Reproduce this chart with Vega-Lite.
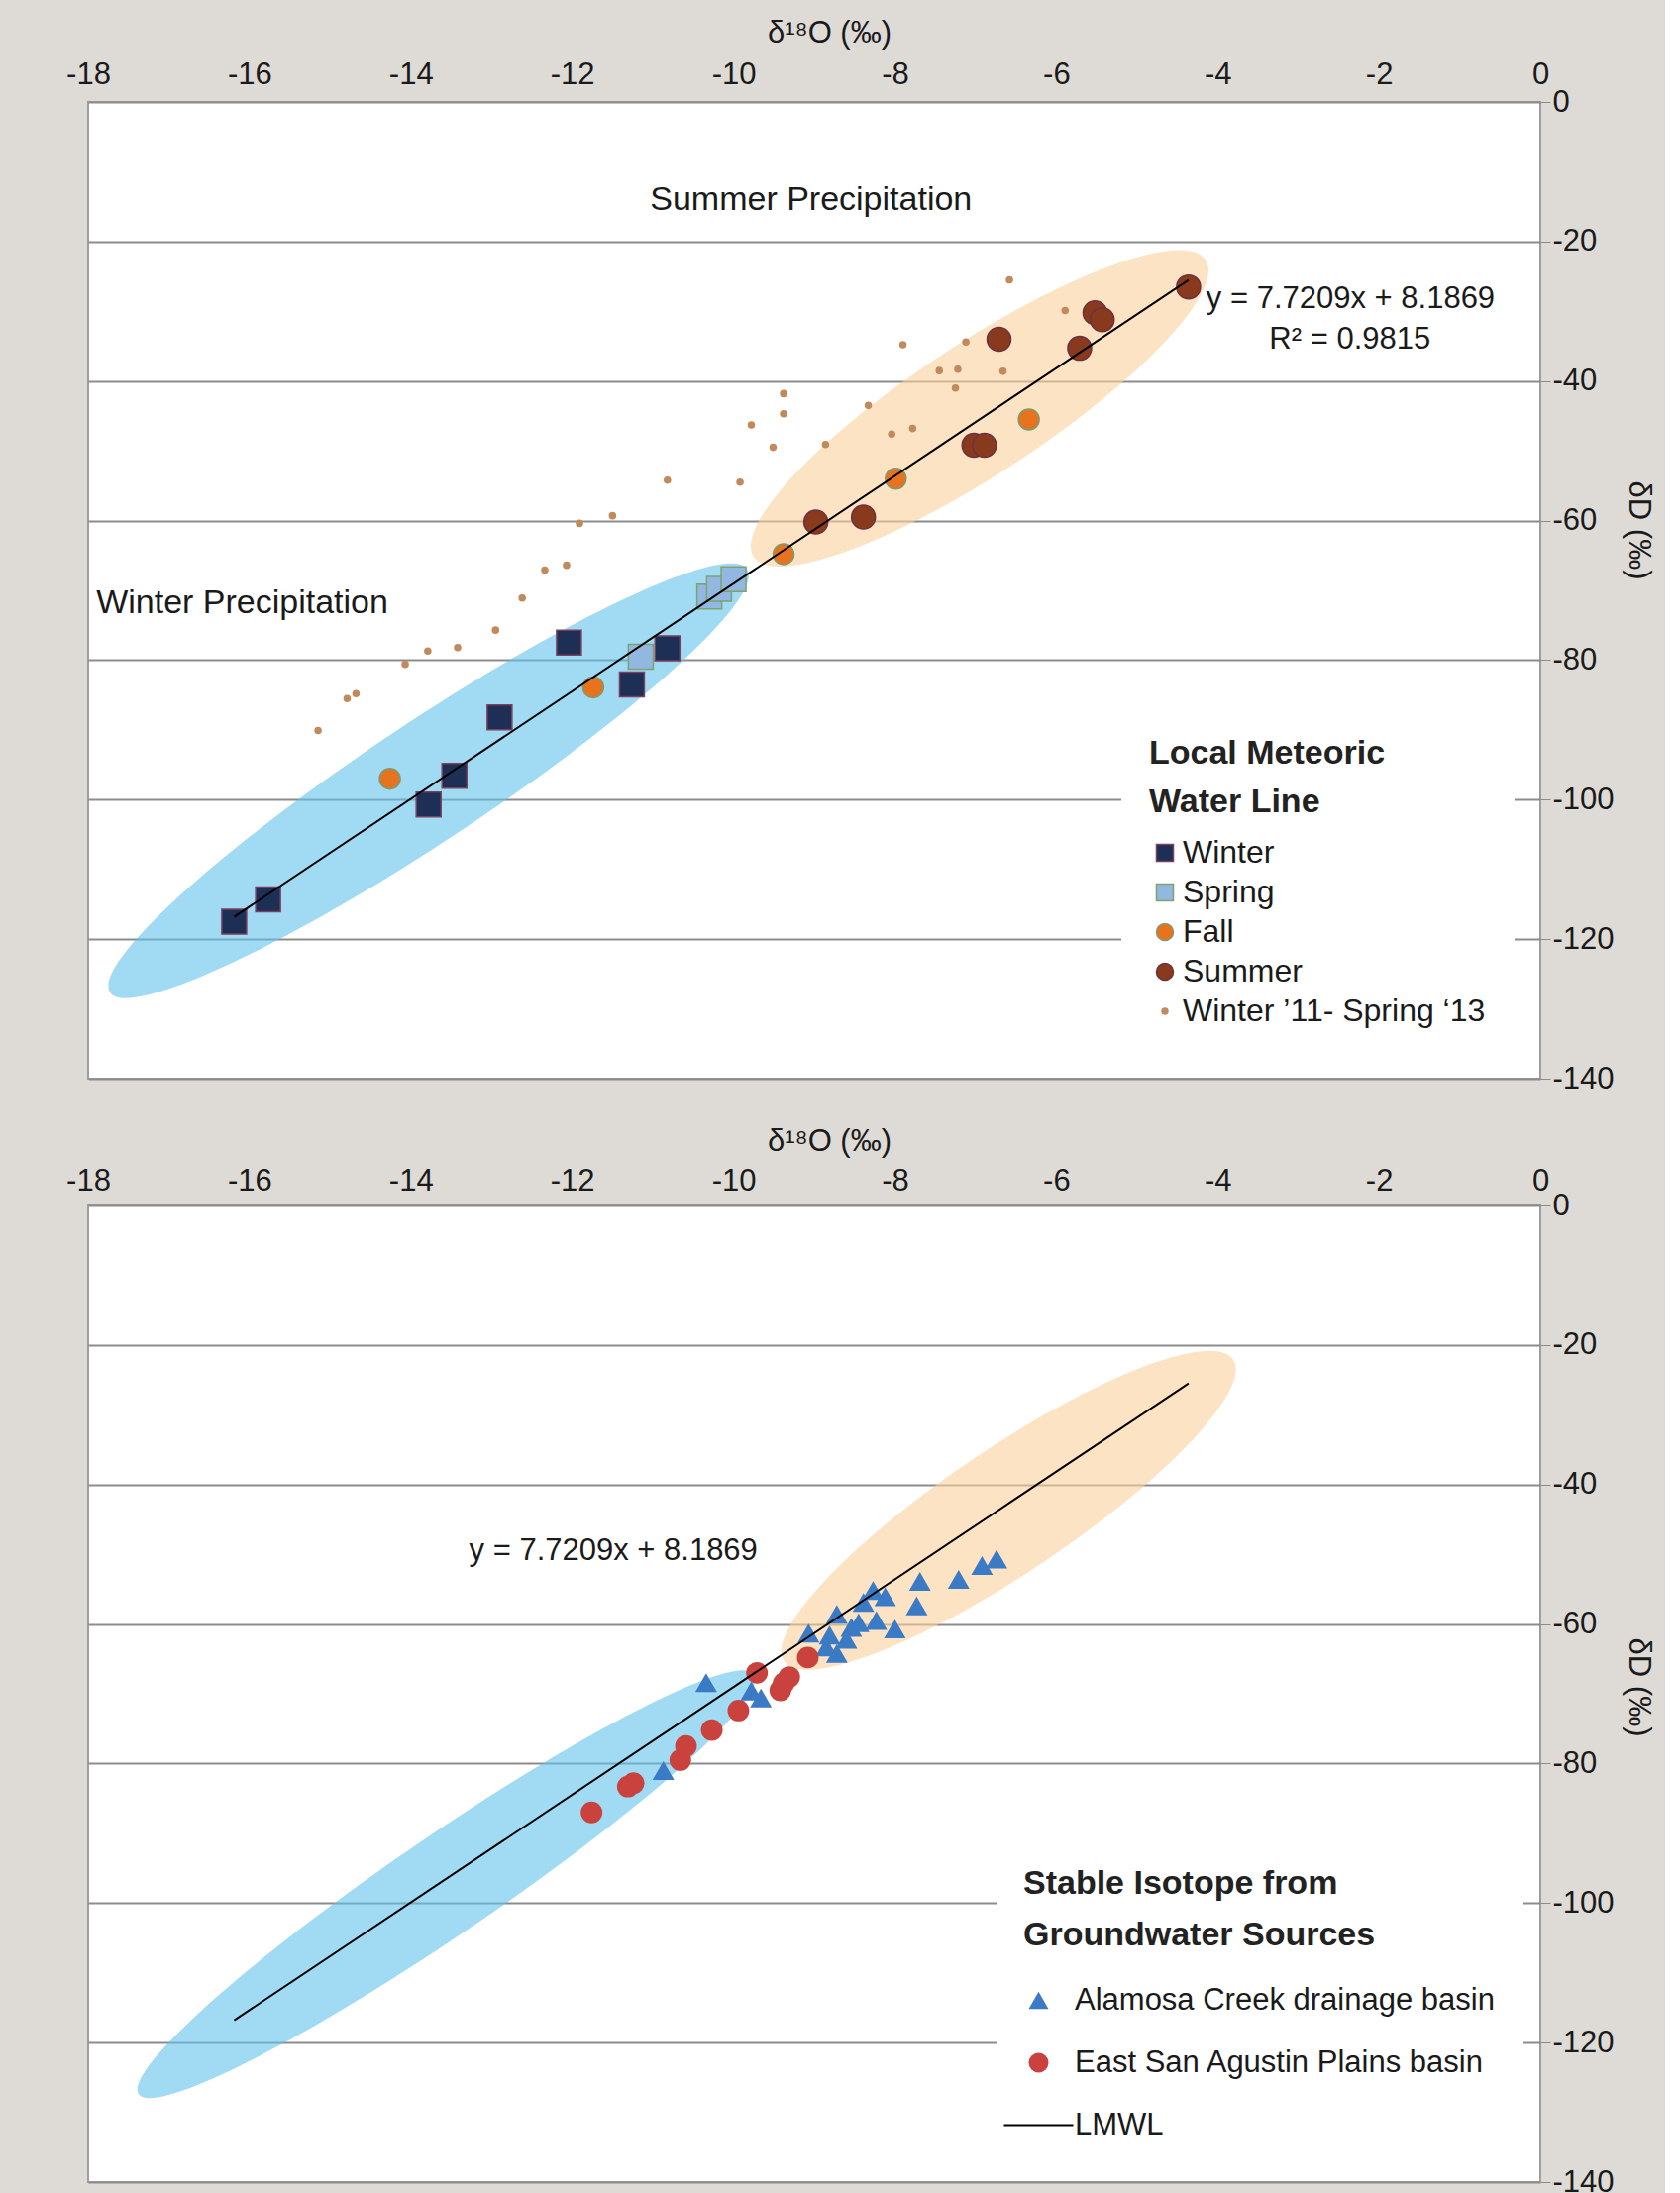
{
  "$schema": "https://vega.github.io/schema/vega-lite/v6.json",
  "background": "#dedbd6",
  "padding": {"left": 65, "top": 16, "right": 10, "bottom": 10},
  "bounds": "flush",
  "spacing": 128,
  "config": {
    "font": "Liberation Sans",
    "view": {"fill": "white", "stroke": "#9e9e9e", "strokeWidth": 2},
    "axis": {"labelFont": "Liberation Sans", "titleFont": "Liberation Sans", "labelColor": "#1a1a1a", "titleColor": "#1a1a1a", "titleFontWeight": "normal"},
    "legend": {"labelFont": "Liberation Sans", "titleFont": "Liberation Sans", "labelLimit": 800, "titleLimit": 800}
  },
  "datasets": {
    "precip": [
      {"series": "Winter ’11- Spring ‘13", "d18O": -6.58, "dD": -25.5},
      {"series": "Winter ’11- Spring ‘13", "d18O": -5.89, "dD": -29.9},
      {"series": "Winter ’11- Spring ‘13", "d18O": -7.90, "dD": -34.8},
      {"series": "Winter ’11- Spring ‘13", "d18O": -7.12, "dD": -34.4},
      {"series": "Winter ’11- Spring ‘13", "d18O": -7.45, "dD": -38.5},
      {"series": "Winter ’11- Spring ‘13", "d18O": -7.22, "dD": -38.3},
      {"series": "Winter ’11- Spring ‘13", "d18O": -6.66, "dD": -38.6},
      {"series": "Winter ’11- Spring ‘13", "d18O": -7.25, "dD": -41.0},
      {"series": "Winter ’11- Spring ‘13", "d18O": -9.38, "dD": -41.8},
      {"series": "Winter ’11- Spring ‘13", "d18O": -8.33, "dD": -43.5},
      {"series": "Winter ’11- Spring ‘13", "d18O": -9.38, "dD": -44.7},
      {"series": "Winter ’11- Spring ‘13", "d18O": -9.78, "dD": -46.3},
      {"series": "Winter ’11- Spring ‘13", "d18O": -7.78, "dD": -46.8},
      {"series": "Winter ’11- Spring ‘13", "d18O": -8.04, "dD": -47.6},
      {"series": "Winter ’11- Spring ‘13", "d18O": -8.86, "dD": -49.1},
      {"series": "Winter ’11- Spring ‘13", "d18O": -9.51, "dD": -49.5},
      {"series": "Winter ’11- Spring ‘13", "d18O": -9.92, "dD": -54.5},
      {"series": "Winter ’11- Spring ‘13", "d18O": -10.82, "dD": -54.2},
      {"series": "Winter ’11- Spring ‘13", "d18O": -11.50, "dD": -59.3},
      {"series": "Winter ’11- Spring ‘13", "d18O": -11.91, "dD": -60.4},
      {"series": "Winter ’11- Spring ‘13", "d18O": -12.07, "dD": -66.4},
      {"series": "Winter ’11- Spring ‘13", "d18O": -12.34, "dD": -67.1},
      {"series": "Winter ’11- Spring ‘13", "d18O": -12.62, "dD": -71.1},
      {"series": "Winter ’11- Spring ‘13", "d18O": -12.95, "dD": -75.7},
      {"series": "Winter ’11- Spring ‘13", "d18O": -13.42, "dD": -78.2},
      {"series": "Winter ’11- Spring ‘13", "d18O": -13.79, "dD": -78.7},
      {"series": "Winter ’11- Spring ‘13", "d18O": -14.07, "dD": -80.6},
      {"series": "Winter ’11- Spring ‘13", "d18O": -14.68, "dD": -84.8},
      {"series": "Winter ’11- Spring ‘13", "d18O": -14.79, "dD": -85.5},
      {"series": "Winter ’11- Spring ‘13", "d18O": -15.15, "dD": -90.1},
      {"series": "Summer", "d18O": -8.98, "dD": -60.2},
      {"series": "Summer", "d18O": -8.39, "dD": -59.5},
      {"series": "Summer", "d18O": -7.02, "dD": -49.2},
      {"series": "Summer", "d18O": -6.89, "dD": -49.2},
      {"series": "Summer", "d18O": -6.71, "dD": -34.0},
      {"series": "Summer", "d18O": -5.71, "dD": -35.3},
      {"series": "Summer", "d18O": -5.52, "dD": -30.2},
      {"series": "Summer", "d18O": -5.43, "dD": -31.2},
      {"series": "Summer", "d18O": -4.36, "dD": -26.5},
      {"series": "Fall", "d18O": -14.26, "dD": -97.0},
      {"series": "Fall", "d18O": -11.74, "dD": -83.9},
      {"series": "Fall", "d18O": -9.38, "dD": -64.8},
      {"series": "Fall", "d18O": -7.99, "dD": -54.0},
      {"series": "Fall", "d18O": -6.34, "dD": -45.5},
      {"series": "Spring", "d18O": -11.15, "dD": -79.5},
      {"series": "Spring", "d18O": -10.30, "dD": -70.9},
      {"series": "Spring", "d18O": -10.18, "dD": -69.8},
      {"series": "Spring", "d18O": -10.00, "dD": -68.4},
      {"series": "Winter", "d18O": -16.19, "dD": -117.5},
      {"series": "Winter", "d18O": -15.77, "dD": -114.3},
      {"series": "Winter", "d18O": -13.78, "dD": -100.7},
      {"series": "Winter", "d18O": -13.46, "dD": -96.6},
      {"series": "Winter", "d18O": -12.90, "dD": -88.2},
      {"series": "Winter", "d18O": -12.04, "dD": -77.5},
      {"series": "Winter", "d18O": -11.26, "dD": -83.5},
      {"series": "Winter", "d18O": -10.82, "dD": -78.3}
    ],
    "gw": [
      {"series": "Alamosa Creek drainage basin", "d18O": -6.74, "dD": -50.7},
      {"series": "Alamosa Creek drainage basin", "d18O": -6.92, "dD": -51.6},
      {"series": "Alamosa Creek drainage basin", "d18O": -7.21, "dD": -53.6},
      {"series": "Alamosa Creek drainage basin", "d18O": -7.69, "dD": -53.9},
      {"series": "Alamosa Creek drainage basin", "d18O": -7.73, "dD": -57.4},
      {"series": "Alamosa Creek drainage basin", "d18O": -8.00, "dD": -60.7},
      {"series": "Alamosa Creek drainage basin", "d18O": -8.12, "dD": -56.1},
      {"series": "Alamosa Creek drainage basin", "d18O": -8.27, "dD": -55.2},
      {"series": "Alamosa Creek drainage basin", "d18O": -8.39, "dD": -56.9},
      {"series": "Alamosa Creek drainage basin", "d18O": -8.23, "dD": -59.5},
      {"series": "Alamosa Creek drainage basin", "d18O": -8.45, "dD": -59.8},
      {"series": "Alamosa Creek drainage basin", "d18O": -8.54, "dD": -60.5},
      {"series": "Alamosa Creek drainage basin", "d18O": -8.72, "dD": -58.6},
      {"series": "Alamosa Creek drainage basin", "d18O": -8.72, "dD": -64.2},
      {"series": "Alamosa Creek drainage basin", "d18O": -8.85, "dD": -63.3},
      {"series": "Alamosa Creek drainage basin", "d18O": -9.07, "dD": -61.3},
      {"series": "Alamosa Creek drainage basin", "d18O": -8.81, "dD": -61.6},
      {"series": "Alamosa Creek drainage basin", "d18O": -8.60, "dD": -62.2},
      {"series": "Alamosa Creek drainage basin", "d18O": -10.34, "dD": -68.4},
      {"series": "Alamosa Creek drainage basin", "d18O": -9.66, "dD": -70.6},
      {"series": "Alamosa Creek drainage basin", "d18O": -9.78, "dD": -69.6},
      {"series": "Alamosa Creek drainage basin", "d18O": -10.87, "dD": -81.0},
      {"series": "East San Agustin Plains basin", "d18O": -11.76, "dD": -87.0},
      {"series": "East San Agustin Plains basin", "d18O": -11.31, "dD": -83.3},
      {"series": "East San Agustin Plains basin", "d18O": -11.24, "dD": -82.8},
      {"series": "East San Agustin Plains basin", "d18O": -10.66, "dD": -79.5},
      {"series": "East San Agustin Plains basin", "d18O": -10.59, "dD": -77.5},
      {"series": "East San Agustin Plains basin", "d18O": -10.27, "dD": -75.2},
      {"series": "East San Agustin Plains basin", "d18O": -9.94, "dD": -72.4},
      {"series": "East San Agustin Plains basin", "d18O": -9.71, "dD": -67.0},
      {"series": "East San Agustin Plains basin", "d18O": -9.42, "dD": -69.5},
      {"series": "East San Agustin Plains basin", "d18O": -9.38, "dD": -68.5},
      {"series": "East San Agustin Plains basin", "d18O": -9.31, "dD": -67.6},
      {"series": "East San Agustin Plains basin", "d18O": -9.08, "dD": -64.8}
    ],
    "lmwl": [
      {"d18O": -16.19, "dD": -116.8},
      {"d18O": -4.36, "dD": -25.5}
    ],
    "frame": [{"part": "panel"}],
    "topBlue": [{"d18O": -13.78, "dD": -97.3}],
    "topOrange": [{"d18O": -6.95, "dD": -43.9}],
    "botBlue": [{"d18O": -13.56, "dD": -97.3}],
    "botOrange": [{"d18O": -6.59, "dD": -43.7}],
    "summerLabel": [{"label": "Summer Precipitation", "d18O": -9.04, "dD": -14.0}],
    "winterLabel": [{"label": "Winter Precipitation", "d18O": -17.9, "dD": -71.8}],
    "eqTop": [{"label": "y = 7.7209x + 8.1869", "d18O": -4.14, "dD": -28.2}],
    "r2Top": [{"label": "R² = 0.9815", "d18O": -2.36, "dD": -34.1}],
    "eqBot": [{"label": "y = 7.7209x + 8.1869", "d18O": -11.49, "dD": -49.5}]
  },
  "resolve": {
    "scale": {"x": "independent", "y": "independent", "color": "independent", "shape": "independent", "stroke": "independent"},
    "legend": {"color": "independent", "shape": "independent", "stroke": "independent"}
  },
  "vconcat": [
    {
      "width": 1466,
      "height": 986,
      "resolve": {"axis": {"y": "independent"}},
      "encoding": {
        "x": {"field": "d18O", "type": "quantitative",
          "scale": {"domain": [-18, 0], "nice": false, "zero": false},
          "axis": {"orient": "top", "values": [-18, -16, -14, -12, -10, -8, -6, -4, -2, 0], "title": "δ¹⁸O  (‰)", "titleX": 748, "grid": false, "domain": false, "ticks": false, "labelFlush": false, "labelOverlap": false, "labelFontSize": 31, "labelPadding": 12, "titleFontSize": 31, "titlePadding": 10, "labelExpr": "'' + datum.value"}},
        "y": {"field": "dD", "type": "quantitative",
          "scale": {"domain": [-140, 0], "nice": false, "zero": false},
          "axis": null}
      },
      "layer": [
        {"data": {"name": "frame"}, "mark": {"type": "rect", "color": "#c4c0ba", "clip": false},
          "encoding": {"x": {"datum": 0.17, "type": "quantitative"}, "x2": {"datum": 0.37},
            "y": {"datum": -3.5, "type": "quantitative", "axis": null}, "y2": {"datum": -143.4}}},
        {"data": {"name": "frame"}, "mark": {"type": "rect", "color": "#c4c0ba", "clip": false},
          "encoding": {"x": {"datum": -17.8, "type": "quantitative"}, "x2": {"datum": 0.37},
            "y": {"datum": -141.9, "type": "quantitative", "axis": null}, "y2": {"datum": -143.4}}},
        {"data": {"name": "frame"}, "mark": {"type": "rect", "color": "#a29e98", "clip": false},
          "encoding": {"x": {"datum": 0, "type": "quantitative"}, "x2": {"datum": 0.17},
            "y": {"datum": -3, "type": "quantitative",
              "axis": {"orient": "right", "zindex": 1, "values": [0, -20, -40, -60, -80, -100, -120, -140], "title": "δD (‰)", "titleY": 432, "grid": false, "domain": false, "ticks": true, "tickSize": 10, "tickColor": "#8c8c8c", "labelFlush": false, "labelOverlap": false, "labelFontSize": 31, "labelPadding": 2, "titleFontSize": 31, "titlePadding": 8, "labelExpr": "'' + datum.value"}},
            "y2": {"datum": -141.9}}},
        {"data": {"name": "frame"}, "mark": {"type": "rect", "color": "#a29e98", "clip": false},
          "encoding": {"x": {"datum": -17.85, "type": "quantitative"}, "x2": {"datum": 0.17},
            "y": {"datum": -140, "type": "quantitative", "axis": null}, "y2": {"datum": -141.9}}},
        {"data": {"name": "topBlue"}, "mark": {"type": "point", "filled": true, "shape": "M-386,0A386,60,0,1,0,386,0A386,60,0,1,0,-386,0Z", "size": 4, "angle": -33.6, "color": "#61c1eb", "opacity": 0.6, "strokeWidth": 0}},
        {"data": {"name": "topOrange"}, "mark": {"type": "point", "filled": true, "shape": "M-273,0A273,66,0,1,0,273,0A273,66,0,1,0,-273,0Z", "size": 4, "angle": -33.3, "color": "#fad09d", "opacity": 0.6, "strokeWidth": 0}},
        {"data": {"name": "precip"}, "mark": {"type": "point", "filled": true, "opacity": 1, "strokeWidth": 1.5},
          "encoding": {
            "y": {"field": "dD", "type": "quantitative",
              "axis": {"orient": "left", "zindex": 0, "values": [0, -20, -40, -60, -80, -100, -120, -140], "title": null, "grid": true, "gridColor": "#8c8c8c", "gridWidth": 2, "domain": false, "ticks": false, "labels": false, "minExtent": 0, "maxExtent": 0}},
            "color": {"field": "series", "type": "nominal",
              "scale": {"domain": ["Winter", "Spring", "Fall", "Summer", "Winter ’11- Spring ‘13"], "range": ["#1d2f54", "#92b7e0", "#e8731e", "#8a3a1c", "#c08a5c"]},
              "legend": {"orient": "none", "legendX": 1043, "legendY": 613, "title": ["Local Meteoric", "Water Line"], "titleFontSize": 34, "titleFontWeight": "bold", "titleLineHeight": 49, "titlePadding": 18, "titleColor": "#222222", "labelFontSize": 32, "labelColor": "#1a1a1a", "labelOffset": 2, "rowPadding": 8, "padding": 28, "symbolSize": 290, "fillColor": "white", "strokeColor": "white"}},
            "stroke": {"field": "series", "type": "nominal",
              "scale": {"domain": ["Winter", "Spring", "Fall", "Summer", "Winter ’11- Spring ‘13"], "range": ["#7b3f5f", "#7ea36e", "#7f9a72", "#6e3040", "#c08a5c"]}},
            "shape": {"field": "series", "type": "nominal",
              "scale": {"domain": ["Winter", "Spring", "Fall", "Summer", "Winter ’11- Spring ‘13"], "range": ["square", "square", "circle", "circle", "M0.35,0A0.35,0.35,0,1,1,-0.35,0A0.35,0.35,0,1,1,0.35,0Z"]}},
            "size": {"condition": [{"test": "datum.series === 'Fall'", "value": 441}, {"test": "datum.series === 'Summer'", "value": 576}, {"test": "length(datum.series) > 10", "value": 300}], "value": 625}
          }},
        {"data": {"name": "lmwl"}, "mark": {"type": "line", "color": "#000000", "strokeWidth": 2}, "encoding": {}},
        {"data": {"name": "summerLabel"}, "mark": {"type": "text", "fontSize": 34, "align": "center", "baseline": "middle", "color": "#1a1a1a"}, "encoding": {"text": {"field": "label"}}},
        {"data": {"name": "winterLabel"}, "mark": {"type": "text", "fontSize": 34, "align": "left", "baseline": "middle", "color": "#1a1a1a"}, "encoding": {"text": {"field": "label"}}},
        {"data": {"name": "eqTop"}, "mark": {"type": "text", "fontSize": 31, "align": "left", "baseline": "middle", "color": "#1a1a1a"}, "encoding": {"text": {"field": "label"}}},
        {"data": {"name": "r2Top"}, "mark": {"type": "text", "fontSize": 31, "align": "center", "baseline": "middle", "color": "#1a1a1a"}, "encoding": {"text": {"field": "label"}}}
      ]
    },
    {
      "width": 1466,
      "height": 986,
      "resolve": {"axis": {"y": "independent"}},
      "encoding": {
        "x": {"field": "d18O", "type": "quantitative",
          "scale": {"domain": [-18, 0], "nice": false, "zero": false},
          "axis": {"orient": "top", "values": [-18, -16, -14, -12, -10, -8, -6, -4, -2, 0], "title": "δ¹⁸O (‰)", "titleX": 748, "grid": false, "domain": false, "ticks": false, "labelFlush": false, "labelOverlap": false, "labelFontSize": 31, "labelPadding": 9, "titleFontSize": 31, "titlePadding": 8, "labelExpr": "'' + datum.value"}},
        "y": {"field": "dD", "type": "quantitative",
          "scale": {"domain": [-140, 0], "nice": false, "zero": false},
          "axis": null}
      },
      "layer": [
        {"data": {"name": "frame"}, "mark": {"type": "rect", "color": "#c4c0ba", "clip": false},
          "encoding": {"x": {"datum": 0.17, "type": "quantitative"}, "x2": {"datum": 0.37},
            "y": {"datum": -3.5, "type": "quantitative", "axis": null}, "y2": {"datum": -143.4}}},
        {"data": {"name": "frame"}, "mark": {"type": "rect", "color": "#c4c0ba", "clip": false},
          "encoding": {"x": {"datum": -17.8, "type": "quantitative"}, "x2": {"datum": 0.37},
            "y": {"datum": -141.9, "type": "quantitative", "axis": null}, "y2": {"datum": -143.4}}},
        {"data": {"name": "frame"}, "mark": {"type": "rect", "color": "#a29e98", "clip": false},
          "encoding": {"x": {"datum": 0, "type": "quantitative"}, "x2": {"datum": 0.17},
            "y": {"datum": -3, "type": "quantitative",
              "axis": {"orient": "right", "zindex": 1, "values": [0, -20, -40, -60, -80, -100, -120, -140], "title": "δD (‰)", "titleY": 486, "grid": false, "domain": false, "ticks": true, "tickSize": 10, "tickColor": "#8c8c8c", "labelFlush": false, "labelOverlap": false, "labelFontSize": 31, "labelPadding": 2, "titleFontSize": 31, "titlePadding": 8, "labelExpr": "'' + datum.value"}},
            "y2": {"datum": -141.9}}},
        {"data": {"name": "frame"}, "mark": {"type": "rect", "color": "#a29e98", "clip": false},
          "encoding": {"x": {"datum": -17.85, "type": "quantitative"}, "x2": {"datum": 0.17},
            "y": {"datum": -140, "type": "quantitative", "axis": null}, "y2": {"datum": -141.9}}},
        {"data": {"name": "botBlue"}, "mark": {"type": "point", "filled": true, "shape": "M-376,0A376,50,0,1,0,376,0A376,50,0,1,0,-376,0Z", "size": 4, "angle": -34.3, "color": "#61c1eb", "opacity": 0.6, "strokeWidth": 0}},
        {"data": {"name": "botOrange"}, "mark": {"type": "point", "filled": true, "shape": "M-273,0A273,63,0,1,0,273,0A273,63,0,1,0,-273,0Z", "size": 4, "angle": -33.9, "color": "#fad09d", "opacity": 0.6, "strokeWidth": 0}},
        {"data": {"name": "gw"}, "mark": {"type": "point", "filled": true, "opacity": 1, "size": 480, "strokeWidth": 2},
          "encoding": {
            "y": {"field": "dD", "type": "quantitative",
              "axis": {"orient": "left", "zindex": 0, "values": [0, -20, -40, -60, -80, -100, -120, -140], "title": null, "grid": true, "gridColor": "#8c8c8c", "gridWidth": 2, "domain": false, "ticks": false, "labels": false, "minExtent": 0, "maxExtent": 0}},
            "color": {"field": "series", "type": "nominal",
              "scale": {"domain": ["Alamosa Creek drainage basin", "East San Agustin Plains basin", "LMWL"], "range": ["#3b7ac4", "#c9423d", "#000000"]},
              "legend": {"orient": "none", "legendX": 917, "legendY": 641, "title": ["Stable Isotope from", "Groundwater Sources"], "titleFontSize": 34, "titleFontWeight": "bold", "titleLineHeight": 52, "titlePadding": 33, "titleColor": "#222222", "labelFontSize": 31, "labelColor": "#1a1a1a", "labelOffset": 21, "rowPadding": 31, "padding": 27, "symbolSize": 400, "symbolStrokeWidth": 2, "fillColor": "white", "strokeColor": "white"}},
            "stroke": {"field": "series", "type": "nominal",
              "scale": {"domain": ["Alamosa Creek drainage basin", "East San Agustin Plains basin", "LMWL"], "range": ["transparent", "transparent", "#000000"]}},
            "shape": {"field": "series", "type": "nominal",
              "scale": {"domain": ["Alamosa Creek drainage basin", "East San Agustin Plains basin", "LMWL"], "range": ["triangle-up", "circle", "M-3.5,0L3.5,0"]}}
          }},
        {"data": {"name": "lmwl"}, "mark": {"type": "line", "color": "#000000", "strokeWidth": 2}, "encoding": {}},
        {"data": {"name": "eqBot"}, "mark": {"type": "text", "fontSize": 31, "align": "center", "baseline": "middle", "color": "#1a1a1a"}, "encoding": {"text": {"field": "label"}}}
      ]
    }
  ]
}
